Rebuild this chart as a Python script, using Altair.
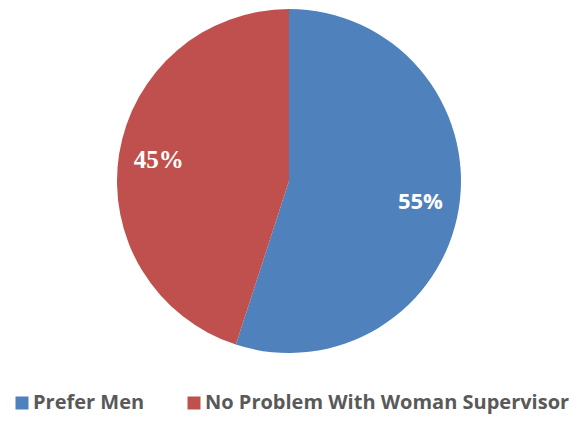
import altair as alt
import pandas as pd

categories = ["Prefer Men", "No Problem With Woman Supervisor"]
values = [55, 45]
labels = ["55%", "45%"]
colors = ["#4F81BD", "#C0504D"]

df = pd.DataFrame({"cat": categories, "val": values, "label": labels, "order": [0, 1]})

cx, cy = 281, 173

pie = alt.Chart(df).mark_arc(outerRadius=172, strokeWidth=0).encode(
    theta=alt.Theta("val:Q", stack=True, scale=alt.Scale(domain=[0, 100])),
    order=alt.Order("order:Q"),
    x=alt.value(cx),
    y=alt.value(cy),
    color=alt.Color(
        "cat:N",
        scale=alt.Scale(domain=categories, range=colors),
        sort=categories,
        legend=alt.Legend(
            title=None,
            orient="none",
            legendX=4,
            legendY=385,
            direction="horizontal",
            symbolType="square",
            symbolSize=169,
            symbolStrokeWidth=0,
            symbolOpacity=1,
            labelFont="Open Sans",
            labelFontSize=20,
            labelFontWeight="bold",
            labelColor="#595959",
            labelOffset=1,
            columnPadding=39,
            padding=0,
            labelLimit=600,
        ),
    ),
)

txt_base = alt.Chart(df).transform_window(
    cum="sum(val)", sort=[alt.SortField("order")]
).transform_calculate(mid="datum.cum - datum.val / 2").encode(
    theta=alt.Theta("mid:Q", stack=False, scale=alt.Scale(domain=[0, 100])),
    x=alt.value(cx),
    y=alt.value(cy),
    text="label:N",
)

t55 = txt_base.mark_text(
    radius=133, font="Open Sans", fontSize=22, fontWeight="bold", color="white"
).transform_filter(alt.datum.label == "55%")

t45 = txt_base.mark_text(
    radius=132, font="serif", fontSize=25,
    fontWeight="bold", color="white"
).transform_filter(alt.datum.label == "45%")

chart = alt.layer(pie, t55, t45).properties(
    width=563, height=410, autosize=alt.AutoSizeParams(type="none"), padding=0,
    background="white",
).configure_view(stroke=None, strokeWidth=0)

chart.save("out.html", embed_options={"renderer": "svg", "actions": False})
